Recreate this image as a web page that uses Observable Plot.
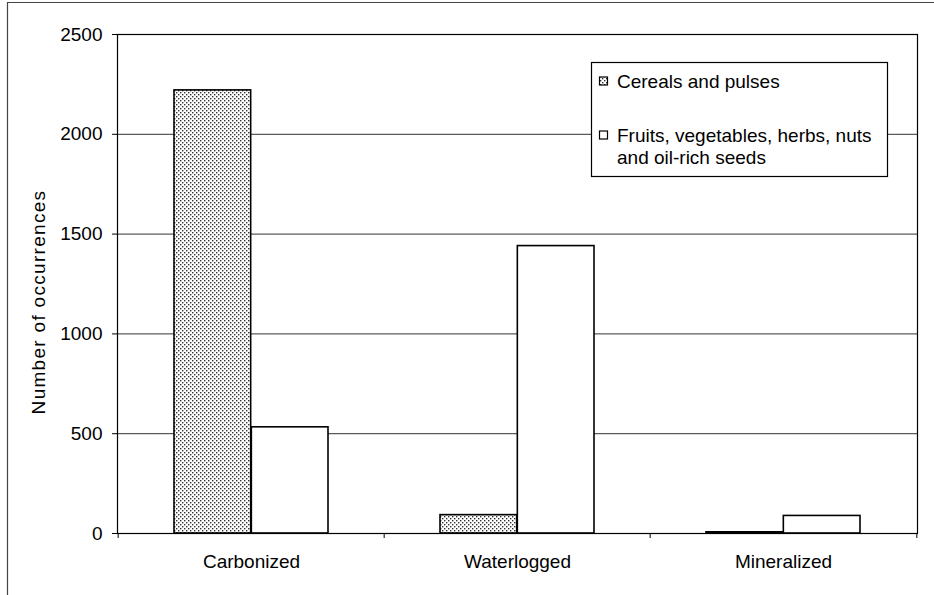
<!DOCTYPE html>
<html><head><meta charset="utf-8">
<script src="https://cdn.jsdelivr.net/npm/d3@7"></script>
<script src="https://cdn.jsdelivr.net/npm/@observablehq/plot@0.6"></script>
<style>
body{margin:0;background:#fff;}
#chart{position:relative;width:934px;height:595px;overflow:hidden;}
</style>
</head><body><div id="chart"></div>
<script>
const categories = ["Carbonized", "Waterlogged", "Mineralized"];
const series = ["Cereals and pulses", "Fruits, vegetables, herbs, nuts and oil-rich seeds"];
const legendLines = [["Cereals and pulses"], ["Fruits, vegetables, herbs, nuts", "and oil-rich seeds"]];
const cereals = [2220, 92, 6];
const fruits = [532, 1440, 88];
const yTicks = [0, 500, 1000, 1500, 2000, 2500];
const gridValues = [500, 1000, 1500, 2000];
const yLabel = "Number of occurrences";

const data = categories.flatMap((c, i) => [
  {category: c, series: series[0], value: cereals[i]},
  {category: c, series: series[1], value: fruits[i]}
]);

const W = 934, H = 595, mL = 117, mR = 17, mT = 34, mB = 62;
const padIn = 0.42, padOut = 0.21;
const step = (W - mL - mR) / (categories.length - padIn + 2 * padOut);
const bw = step * (1 - padIn);
const font = "'Liberation Sans', Arial, Helvetica, sans-serif";

const plot = Plot.plot({
  width: W, height: H,
  marginLeft: mL, marginRight: mR, marginTop: mT, marginBottom: mB,
  style: {fontFamily: font, fontSize: "19px", color: "#000", background: "#fff", overflow: "visible"},
  x: {domain: categories, paddingInner: padIn, paddingOuter: padOut, label: null},
  y: {domain: [0, 2500], label: null},
  color: {domain: series, range: ["url(#dots)", "#fff"]},
  marks: [
    Plot.ruleY(gridValues, {stroke: "#333", strokeWidth: 1}),
    Plot.barY(data.filter(d => d.series === series[0]), {x: "category", y: "value", fill: "series", stroke: "#000", strokeWidth: 1.6, insetRight: bw / 2}),
    Plot.barY(data.filter(d => d.series === series[1]), {x: "category", y: "value", fill: "series", stroke: "#000", strokeWidth: 1.6, insetLeft: bw / 2}),
    Plot.frame({stroke: "#000", strokeWidth: 1.2}),
    Plot.axisY({ticks: yTicks, tickSize: 5, tickPadding: 10, tickFormat: d3.format("d"), label: null}),
    Plot.axisX({tickSize: 0, tickPadding: 21, label: null}),
    Plot.axisX(categories, {tickSize: 5, tickFormat: () => "", dx: -step / 2, label: null}),
    Plot.axisX([categories[categories.length - 1]], {tickSize: 5, tickFormat: () => "", dx: step / 2, label: null})
  ]
});

document.getElementById("chart").appendChild(plot);
const svg = d3.select(plot);

// dotted pattern
const defs = svg.insert("defs", ":first-child");
const pat = defs.append("pattern").attr("id", "dots").attr("patternUnits", "userSpaceOnUse")
  .attr("width", 4).attr("height", 4);
pat.append("rect").attr("width", 4).attr("height", 4).attr("fill", "#fff");
pat.append("rect").attr("x", 0).attr("y", 0).attr("width", 1.4).attr("height", 1.4).attr("fill", "#333");
pat.append("rect").attr("x", 2).attr("y", 2).attr("width", 1.4).attr("height", 1.4).attr("fill", "#333");

// outer border
svg.append("path").attr("d", `M7.5,${H}V2.5H${W}`).attr("fill", "none").attr("stroke", "#444").attr("stroke-width", 1.2);

// y label
svg.append("text").attr("transform", "translate(45,302) rotate(-90)")
  .attr("text-anchor", "middle").attr("font-family", font).attr("font-size", 19)
  .attr("letter-spacing", 1.3).text(yLabel);

// legend
const lg = svg.append("g").attr("font-family", font).attr("font-size", 19).attr("text-anchor", "start");
lg.append("rect").attr("x", 591.5).attr("y", 62.5).attr("width", 296).attr("height", 114)
  .attr("fill", "#fff").attr("stroke", "#000").attr("stroke-width", 1.2);
const entryY = [81, 135];
legendLines.forEach((lines, i) => {
  lg.append("rect").attr("x", 599.5).attr("y", entryY[i] - 4).attr("width", 8).attr("height", 8)
    .attr("fill", i === 0 ? "url(#dots)" : "#fff").attr("stroke", "#000").attr("stroke-width", 1.2);
  lines.forEach((t, j) => {
    lg.append("text").attr("x", 617).attr("y", entryY[i] + j * 22).attr("dy", "0.35em").text(t);
  });
});
</script>
</body></html>
